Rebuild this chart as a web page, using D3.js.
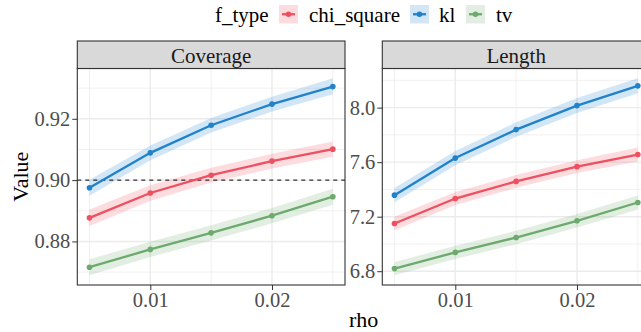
<!DOCTYPE html>
<html lang="en">
<head>
  <meta charset="utf-8">
  <title>Coverage and Length by rho</title>
  <script src="https://d3js.org/d3.v7.min.js"></script>
  <style>
    body { margin: 0; background: #fff; }
    svg, svg text { font-family: "Liberation Serif", "Times New Roman", Times, serif !important; }
    .tick text { fill: #4d4d4d; font-size: 20.5px; }
    .tick line { stroke: #333; }
  </style>
</head>
<body>
<div id="chart"></div>
<script>
// data
var rho = [0.005, 0.01, 0.015, 0.02, 0.025];
var fTypes = ["chi_square", "kl", "tv"];
var colors = ["#ee5060", "#1f82cb", "#6daa6d"];

// Coverage panel
var covChi   = [0.8877, 0.8958, 0.9016, 0.9062, 0.9101];
var covChiLo = [0.8850, 0.8933, 0.8992, 0.9038, 0.9076];
var covChiHi = [0.8904, 0.8983, 0.9040, 0.9086, 0.9126];
var covKl    = [0.8975, 0.9089, 0.9179, 0.9248, 0.9305];
var covKlLo  = [0.8949, 0.9065, 0.9155, 0.9224, 0.9280];
var covKlHi  = [0.9001, 0.9113, 0.9203, 0.9272, 0.9332];
var covTv    = [0.8716, 0.8774, 0.8828, 0.8884, 0.8946];
var covTvLo  = [0.8690, 0.8749, 0.8803, 0.8859, 0.8920];
var covTvHi  = [0.8742, 0.8799, 0.8853, 0.8909, 0.8972];

// Length panel
var lenChi   = [7.150, 7.333, 7.459, 7.567, 7.656];
var lenChiLo = [7.100, 7.285, 7.412, 7.520, 7.605];
var lenChiHi = [7.200, 7.381, 7.506, 7.614, 7.707];
var lenKl    = [7.358, 7.630, 7.839, 8.015, 8.160];
var lenKlLo  = [7.306, 7.578, 7.786, 7.960, 8.105];
var lenKlHi  = [7.410, 7.682, 7.892, 8.070, 8.215];
var lenTv    = [6.819, 6.938, 7.047, 7.170, 7.304];
var lenTvLo  = [6.771, 6.890, 6.998, 7.120, 7.252];
var lenTvHi  = [6.867, 6.986, 7.096, 7.220, 7.356];

var xTicks = [0.01, 0.02];
var xMinor = [0.005, 0.015, 0.025];
var covTicks = [0.88, 0.90, 0.92];
var covMinor = [0.87, 0.89, 0.91, 0.93];
var lenTicks = [6.8, 7.2, 7.6, 8.0];
var lenMinor = [7.0, 7.4, 7.8, 8.2];
var covTarget = 0.90;

var panels = [
  { title: "Coverage", left: 77.3,
    series: [[covChi, covChiLo, covChiHi], [covKl, covKlLo, covKlHi], [covTv, covTvLo, covTvHi]],
    ticks: covTicks, minor: covMinor, target: covTarget, fmt: d3.format(".2f") },
  { title: "Length", left: 382.3,
    series: [[lenChi, lenChiLo, lenChiHi], [lenKl, lenKlLo, lenKlHi], [lenTv, lenTvLo, lenTvHi]],
    ticks: lenTicks, minor: lenMinor, target: null, fmt: d3.format(".1f") }
];

var W = 641, H = 332;
var panelW = 267.7, panelTop = 68.5, panelBottom = 285, stripTop = 41;
var serif = "Liberation Serif, Times New Roman, serif";

var svg = d3.select("#chart").append("svg")
  .attr("width", W).attr("height", H)
  .attr("font-family", serif);

// expand a range by 5% like ggplot does
function expand(ext) {
  var pad = (ext[1] - ext[0]) * 0.05;
  return [ext[0] - pad, ext[1] + pad];
}

panels.forEach(function(p) {
  var x = d3.scaleLinear().domain(expand(d3.extent(rho))).range([p.left, p.left + panelW]);
  var all = [];
  p.series.forEach(function(s) { all = all.concat(s[1], s[2]); });
  var y = d3.scaleLinear().domain(expand(d3.extent(all))).range([panelBottom, panelTop]);

  var g = svg.append("g");

  // clip for panel contents
  var clipId = "clip-" + p.title;
  svg.append("clipPath").attr("id", clipId).append("rect")
    .attr("x", p.left).attr("y", panelTop).attr("width", panelW).attr("height", panelBottom - panelTop);

  var grid = g.append("g");
  grid.selectAll(".ymin").data(p.minor).enter().append("line")
    .attr("x1", p.left).attr("x2", p.left + panelW)
    .attr("y1", function(d) { return y(d); }).attr("y2", function(d) { return y(d); })
    .attr("stroke", "#ebebeb").attr("stroke-width", 0.7);
  grid.selectAll(".xmin").data(xMinor).enter().append("line")
    .attr("y1", panelTop).attr("y2", panelBottom)
    .attr("x1", function(d) { return x(d); }).attr("x2", function(d) { return x(d); })
    .attr("stroke", "#ebebeb").attr("stroke-width", 0.7);
  grid.selectAll(".ymaj").data(p.ticks).enter().append("line")
    .attr("x1", p.left).attr("x2", p.left + panelW)
    .attr("y1", function(d) { return y(d); }).attr("y2", function(d) { return y(d); })
    .attr("stroke", "#ebebeb").attr("stroke-width", 1.4);
  grid.selectAll(".xmaj").data(xTicks).enter().append("line")
    .attr("y1", panelTop).attr("y2", panelBottom)
    .attr("x1", function(d) { return x(d); }).attr("x2", function(d) { return x(d); })
    .attr("stroke", "#ebebeb").attr("stroke-width", 1.4);

  var body = g.append("g").attr("clip-path", "url(#" + clipId + ")");

  // ribbons
  p.series.forEach(function(s, i) {
    var area = d3.area()
      .x(function(d, j) { return x(rho[j]); })
      .y0(function(d, j) { return y(s[1][j]); })
      .y1(function(d, j) { return y(s[2][j]); });
    body.append("path").datum(rho).attr("d", area)
      .attr("fill", colors[i]).attr("fill-opacity", 0.2);
  });

  if (p.target !== null) {
    body.append("line")
      .attr("x1", p.left).attr("x2", p.left + panelW)
      .attr("y1", y(p.target)).attr("y2", y(p.target))
      .attr("stroke", "#000").attr("stroke-width", 1)
      .attr("stroke-dasharray", "4,4");
  }

  // lines and points
  p.series.forEach(function(s, i) {
    var line = d3.line()
      .x(function(d, j) { return x(rho[j]); })
      .y(function(d) { return y(d); });
    body.append("path").datum(s[0]).attr("d", line)
      .attr("fill", "none").attr("stroke", colors[i]).attr("stroke-width", 2.3);
    body.selectAll(".pt" + i).data(s[0]).enter().append("circle")
      .attr("cx", function(d, j) { return x(rho[j]); })
      .attr("cy", function(d) { return y(d); })
      .attr("r", 2.8).attr("fill", colors[i]);
  });

  // panel border
  g.append("rect")
    .attr("x", p.left).attr("y", panelTop).attr("width", panelW).attr("height", panelBottom - panelTop)
    .attr("fill", "none").attr("stroke", "#333").attr("stroke-width", 1.1);

  // strip
  g.append("rect")
    .attr("x", p.left).attr("y", stripTop).attr("width", panelW).attr("height", panelTop - stripTop)
    .attr("fill", "#d9d9d9").attr("stroke", "#333").attr("stroke-width", 1.1);
  g.append("text")
    .attr("x", p.left + panelW / 2).attr("y", 62.5)
    .attr("text-anchor", "middle").attr("font-size", "21px").attr("fill", "#1a1a1a")
    .text(p.title);

  // axes
  var ax = g.append("g").attr("transform", "translate(0," + panelBottom + ")")
    .call(d3.axisBottom(x).tickValues(xTicks).tickFormat(d3.format(".2f")).tickSize(5).tickPadding(2));
  ax.select(".domain").remove();
  var ay = g.append("g").attr("transform", "translate(" + p.left + ",0)")
    .call(d3.axisLeft(y).tickValues(p.ticks).tickFormat(p.fmt).tickSize(5).tickPadding(2));
  ay.select(".domain").remove();
  ax.attr("font-family", serif).attr("font-size", null);
  ay.attr("font-family", serif).attr("font-size", null);
});

// axis titles
svg.append("text")
  .attr("transform", "translate(28," + ((panelTop + panelBottom) / 2) + ") rotate(-90)")
  .attr("text-anchor", "middle").attr("font-size", "22px").attr("fill", "#000")
  .text("Value");
svg.append("text")
  .attr("x", (77.3 + 382.3 + panelW) / 2).attr("y", 327)
  .attr("text-anchor", "middle").attr("font-size", "22px").attr("fill", "#000")
  .text("rho");

// legend
var legend = svg.append("g");
legend.append("text").attr("x", 215).attr("y", 22)
  .attr("font-size", "21px").attr("fill", "#000").text("f_type");
var keyX = [279, 410, 466];
var labelX = [309, 439, 496];
fTypes.forEach(function(name, i) {
  var k = legend.append("g").attr("transform", "translate(" + keyX[i] + ",5)");
  k.append("rect").attr("width", 19).attr("height", 18.5)
    .attr("fill", colors[i]).attr("fill-opacity", 0.2);
  k.append("line").attr("x1", 3).attr("x2", 16).attr("y1", 9.25).attr("y2", 9.25)
    .attr("stroke", colors[i]).attr("stroke-width", 2.3);
  k.append("circle").attr("cx", 9.5).attr("cy", 9.25).attr("r", 2.8).attr("fill", colors[i]);
  legend.append("text").attr("x", labelX[i]).attr("y", 22)
    .attr("font-size", "21px").attr("fill", "#000").text(name);
});
</script>
</body>
</html>
